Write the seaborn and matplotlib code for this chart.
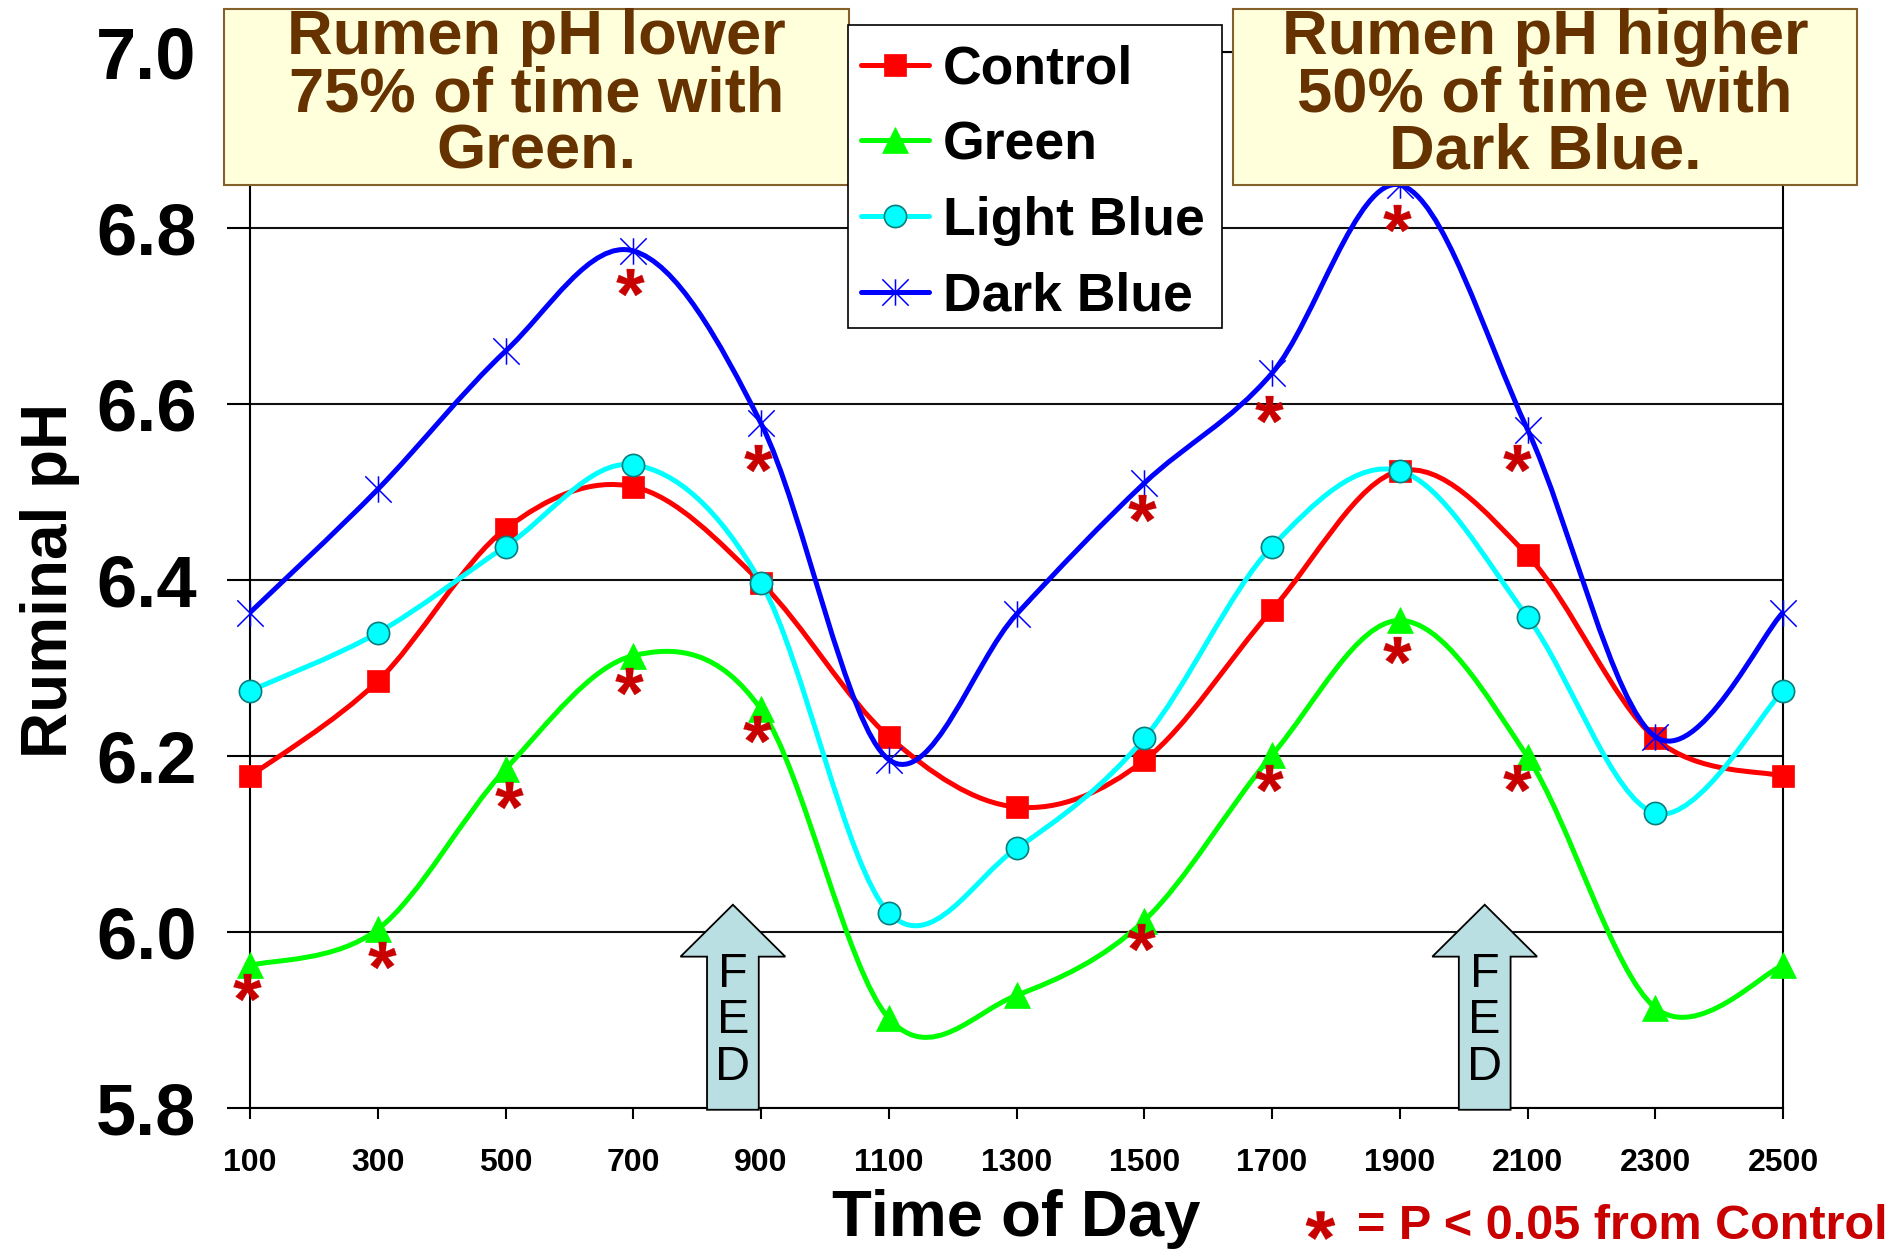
import numpy as np
import pandas as pd
import matplotlib
matplotlib.use("Agg")
import matplotlib.pyplot as plt
from matplotlib.path import Path
from matplotlib.patches import PathPatch, Rectangle, FancyArrow
from matplotlib.lines import Line2D
from matplotlib.textpath import TextPath
from matplotlib.font_manager import FontProperties
import seaborn as sns

# ---------------------------------------------------------------- data
time_of_day = [100, 300, 500, 700, 900, 1100, 1300, 1500, 1700, 1900, 2100, 2300, 2500]
time_labels = [str(t) for t in time_of_day]

control = [6.177, 6.285, 6.458, 6.506, 6.397, 6.222, 6.142, 6.195, 6.366, 6.524, 6.428, 6.220, 6.177]
green = [5.962, 6.003, 6.185, 6.314, 6.253, 5.902, 5.928, 6.013, 6.201, 6.354, 6.199, 5.914, 5.962]
light_blue = [6.274, 6.340, 6.438, 6.531, 6.397, 6.022, 6.095, 6.220, 6.438, 6.524, 6.358, 6.135, 6.274]
dark_blue = [6.363, 6.503, 6.660, 6.774, 6.578, 6.196, 6.361, 6.510, 6.635, 6.849, 6.571, 6.222, 6.363]

# significance flags (P < 0.05 vs Control)
green_sig_x = [95, 306, 505, 694, 894, 1495, 1696, 1896, 2084]
green_sig_ph = [5.938, 5.974, 6.156, 6.285, 6.231, 5.994, 6.175, 6.321, 6.175]
dark_sig_x = [695, 895, 1497, 1696, 1896, 2084]
dark_sig_ph = [6.739, 6.539, 6.482, 6.594, 6.811, 6.539]

feeding_times = [856, 2033]

series_names = ["Control", "Green", "Light Blue", "Dark Blue"]
series_values = [control, green, light_blue, dark_blue]

df = pd.DataFrame({"time": time_of_day, "Control": control, "Green": green,
                   "Light Blue": light_blue, "Dark Blue": dark_blue})
long_df = df.melt(id_vars="time", var_name="diet", value_name="ph")

# ---------------------------------------------------------------- style
sns.set_theme(style="white")
plt.rcParams["font.family"] = ["Liberation Sans", "DejaVu Sans"]
plt.rcParams["font.weight"] = "bold"
plt.rcParams["text.color"] = "black"

W, H = 1901, 1249
fig = plt.figure(figsize=(W / 100, H / 100), dpi=100)
fig.patch.set_facecolor("white")


def fx(px):
    return px / W


def fy(py):
    return 1 - py / H


ax = fig.add_axes([fx(250), fy(1108), 1533 / W, 1056 / H])
ax.set_facecolor("white")


def smooth_path(xs, ys):
    """Cubic Bezier path through the points (Catmull-Rom style smoothing)."""
    pts = np.column_stack([xs, ys]).astype(float)
    ext = np.vstack([pts[0], pts, pts[-1]])
    verts = [pts[0]]
    codes = [Path.MOVETO]
    for i in range(len(pts) - 1):
        p0, p1, p2, p3 = ext[i], ext[i + 1], ext[i + 2], ext[i + 3]
        verts += [p1 + (p2 - p0) / 6.0, p2 - (p3 - p1) / 6.0, p2]
        codes += [Path.CURVE4] * 3
    return Path(verts, codes)


# six-armed star used for the Dark Blue series
star_marker = Path([(0, -1), (0, 1), (-1, -1), (1, 1), (-1, 1), (1, -1)],
                   [Path.MOVETO, Path.LINETO, Path.MOVETO, Path.LINETO,
                    Path.MOVETO, Path.LINETO])

# bold asterisk glyph as a centred marker
_tp = TextPath((0, 0), "*", size=1, prop=FontProperties(family="Liberation Sans", weight="bold"))
_v = _tp.vertices.copy()
_c = _tp.codes.copy() if _tp.codes is not None else np.full(len(_v), Path.LINETO)
for i in range(len(_v)):
    if _c[i] == Path.CLOSEPOLY and i > 0:
        _v[i] = _v[i - 1]
_real = _v[_c != Path.CLOSEPOLY]
_ctr = (_real.min(0) + _real.max(0)) / 2
asterisk_marker = Path(_v - _ctr, _c)

styles = {
    "Control": dict(color="#FF0000", marker="s", markersize=16.5,
                    markerfacecolor="#FF0000", markeredgecolor="#FF0000", markeredgewidth=0.5),
    "Green": dict(color="#00FF00", marker="^", markersize=18.5,
                  markerfacecolor="#00FF00", markeredgecolor="#00FF00", markeredgewidth=0.5),
    "Light Blue": dict(color="#00FFFF", marker="o", markersize=16,
                       markerfacecolor="#00FFFF", markeredgecolor="#0a7d7d", markeredgewidth=1.2),
    "Dark Blue": dict(color="#0000FF", marker=star_marker, markersize=19,
                      markerfacecolor="none", markeredgecolor="#0000FF", markeredgewidth=1.1),
}
LINE_W = 3.6

for k, (name, vals) in enumerate(zip(series_names, series_values)):
    st = styles[name]
    ax.add_patch(PathPatch(smooth_path(time_of_day, vals), fill=False,
                           edgecolor=st["color"], lw=LINE_W, capstyle="round",
                           joinstyle="round", zorder=3 + k))
    sub = long_df[long_df["diet"] == name]
    sns.lineplot(data=sub, x="time", y="ph", ax=ax, estimator=None, sort=False,
                 legend=False, linestyle="none", zorder=3.5 + k, clip_on=False,
                 color=st["color"], marker=st["marker"], markersize=st["markersize"],
                 markerfacecolor=st["markerfacecolor"],
                 markeredgecolor=st["markeredgecolor"],
                 markeredgewidth=st["markeredgewidth"])

SIG_RED = "#C80000"
for xs, ys in [(green_sig_x, green_sig_ph), (dark_sig_x, dark_sig_ph)]:
    sns.lineplot(x=xs, y=ys, ax=ax, estimator=None, sort=False, legend=False,
                 linestyle="none", marker=asterisk_marker, markersize=20,
                 color=SIG_RED, markerfacecolor=SIG_RED, markeredgecolor=SIG_RED,
                 markeredgewidth=0.3, zorder=9, clip_on=False)

# feeding arrows
for ft in feeding_times:
    ax.add_patch(FancyArrow(ft, 5.798, 0, 6.031 - 5.798, width=81, head_width=164,
                            head_length=0.059, length_includes_head=True,
                            facecolor="#B9DFE3", edgecolor="black", lw=1.3,
                            zorder=8, clip_on=False))
    for letter, yb in zip("FED", [5.9378, 5.8852, 5.8318]):
        ax.text(ft, yb, letter, ha="center", va="baseline", fontsize=35,
                fontweight="normal", color="black", zorder=8.5)

# axes
ax.set_xlim(100, 2500)
ax.set_ylim(5.8, 7.0)
ax.set_xticks(time_of_day)
ax.set_xticklabels(time_labels)
ax.set_yticks([5.8, 6.0, 6.2, 6.4, 6.6, 6.8, 7.0])
ax.set_yticklabels(["5.8", "6.0", "6.2", "6.4", "6.6", "6.8", "7.0"])
ax.set_axisbelow(True)
ax.yaxis.grid(True, color="#111111", lw=1.5)
ax.xaxis.grid(False)
for s in ax.spines.values():
    s.set_visible(True)
    s.set_color("black")
    s.set_linewidth(1.5)
ax.tick_params(axis="y", left=True, direction="out", length=16.5, width=1.5,
               color="black", pad=22, labelsize=52, labelcolor="black")
ax.tick_params(axis="x", bottom=True, direction="out", length=8, width=1.5,
               color="black", pad=21, labelsize=23, labelcolor="black")

ax.set_xlabel("Time of Day", fontsize=47, fontweight="bold", color="black")
ax.set_ylabel("Ruminal pH", fontsize=46, fontweight="bold", color="black")
ax.xaxis.set_label_coords(0.5, (1108 - 1189) / 1056)
ax.yaxis.set_label_coords((80 - 250) / 1533, 0.5)

# legend: frame drawn as its own rectangle, entries placed inside it
fig.add_artist(Rectangle((fx(848), fy(328)), (1222 - 848) / W, (328 - 25) / H,
                         transform=fig.transFigure, facecolor="white",
                         edgecolor="black", lw=1.2, zorder=11.5))
handles = []
for name in series_names:
    st = styles[name]
    handles.append(Line2D([], [], color=st["color"], lw=LINE_W, marker=st["marker"],
                          markersize=st["markersize"], markerfacecolor=st["markerfacecolor"],
                          markeredgecolor=st["markeredgecolor"],
                          markeredgewidth=st["markeredgewidth"]))
leg = fig.legend(handles, series_names, loc="upper left",
                 bbox_to_anchor=(fx(848), fy(31)), bbox_transform=fig.transFigure,
                 borderaxespad=0, prop=dict(size=38.5, weight="bold"),
                 handlelength=1.27, handletextpad=0.25, borderpad=0.25,
                 labelspacing=0.48, frameon=False, labelcolor="black")
leg.set_zorder(12)

# call-out boxes
BOX_FILL = "#FFFFDC"
BOX_EDGE = "#86602A"
TEXT_BROWN = "#663300"
boxes = [
    (224, 849, ["Rumen pH lower", "75% of time with", "Green."]),
    (1233, 1857, ["Rumen pH higher", "50% of time with", "Dark Blue."]),
]
for x0, x1, lines in boxes:
    fig.add_artist(Rectangle((fx(x0), fy(185)), (x1 - x0) / W, (185 - 9) / H,
                             transform=fig.transFigure, facecolor=BOX_FILL,
                             edgecolor=BOX_EDGE, lw=1.5, zorder=10))
    for line, yb in zip(lines, [54.3, 111.5, 168.3]):
        fig.text(fx((x0 + x1) / 2), fy(yb), line, ha="center", va="baseline",
                 fontsize=45.5, fontweight="bold", color=TEXT_BROWN, zorder=11)

# significance footnote
fig.add_artist(Line2D([fx(1320)], [fy(1225)], transform=fig.transFigure,
                      linestyle="none", marker=asterisk_marker, markersize=21,
                      color=SIG_RED, markerfacecolor=SIG_RED, markeredgecolor=SIG_RED,
                      markeredgewidth=0.3, zorder=11))
fig.text(fx(1888), fy(1239), "= P < 0.05 from Control", ha="right", va="baseline",
         fontsize=35, fontweight="bold", color=SIG_RED)

fig.savefig("out.png", dpi=100, facecolor="white")
